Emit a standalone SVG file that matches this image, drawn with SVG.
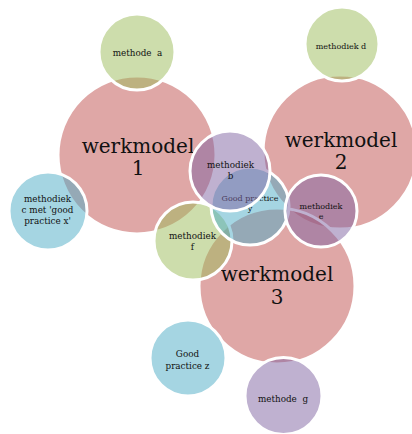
<svg xmlns="http://www.w3.org/2000/svg" width="412" height="434" viewBox="0 0 412 434">
<style>
circle{stroke:#fff;stroke-width:3;fill-opacity:0.5}
.pink{fill:#C0504D}
.green{fill:#9BBB59}
.blue{fill:#4BACC6}
.purple{fill:#8064A2}
text{font-family:"DejaVu Serif","Liberation Serif",serif;fill:#111;text-anchor:middle}
.big{font-size:20px}
.sm{font-size:8.8px}
.xs{font-size:8px}
</style>
<rect width="412" height="434" fill="#fff"/>
<g id="werkmodel1"><circle class="pink" cx="137" cy="155" r="79"/><text class="big" x="138" y="153">werkmodel</text><text class="big" x="138" y="175">1</text></g>
<g id="werkmodel2"><circle class="pink" cx="340" cy="152" r="77"/><text class="big" x="341" y="147">werkmodel</text><text class="big" x="341" y="169">2</text></g>
<g id="werkmodel3"><circle class="pink" cx="277" cy="286" r="78"/><text class="big" x="277" y="281">werkmodel</text><text class="big" x="277" y="304">3</text></g>
<g id="methode-a"><circle class="green" cx="137" cy="52" r="38"/><text class="sm" x="137.5" y="56">methode&#160; a</text></g>
<g id="methodiek-d"><circle class="green" cx="342" cy="44" r="37"/><text class="xs" x="341" y="49">methodiek d</text></g>
<g id="methodiek-c"><circle class="blue" cx="48" cy="211" r="39"/><text class="sm" x="47.5" y="202">methodiek</text><text class="sm" x="47.5" y="213">c met 'good</text><text class="sm" x="47.5" y="224">practice x'</text></g>
<g id="methodiek-f"><circle class="green" cx="193" cy="241" r="39"/><text class="sm" x="192.5" y="239">methodiek</text><text class="sm" x="192.5" y="250">f</text></g>
<g id="good-practice-y"><circle class="blue" cx="250" cy="206" r="39"/><text class="xs" x="250" y="201">Good practice</text><text class="xs" x="250" y="211">y</text></g>
<g id="methodiek-b"><circle class="purple" cx="230" cy="171" r="40"/><text class="sm" x="230.5" y="168">methodiek</text><text class="sm" x="230.5" y="179">b</text></g>
<g id="methodiek-e"><circle class="purple" cx="321" cy="211" r="36"/><text class="xs" x="321" y="209">methodiek</text><text class="xs" x="321" y="219">e</text></g>
<g id="good-practice-z"><circle class="blue" cx="188" cy="358" r="38"/><text class="sm" x="187.5" y="357">Good</text><text class="sm" x="187.5" y="369">practice z</text></g>
<g id="methode-g"><circle class="purple" cx="283.5" cy="396" r="38.5"/><text class="sm" x="283" y="402">methode&#160; g</text></g>
<g id="connectors"/>
</svg>
